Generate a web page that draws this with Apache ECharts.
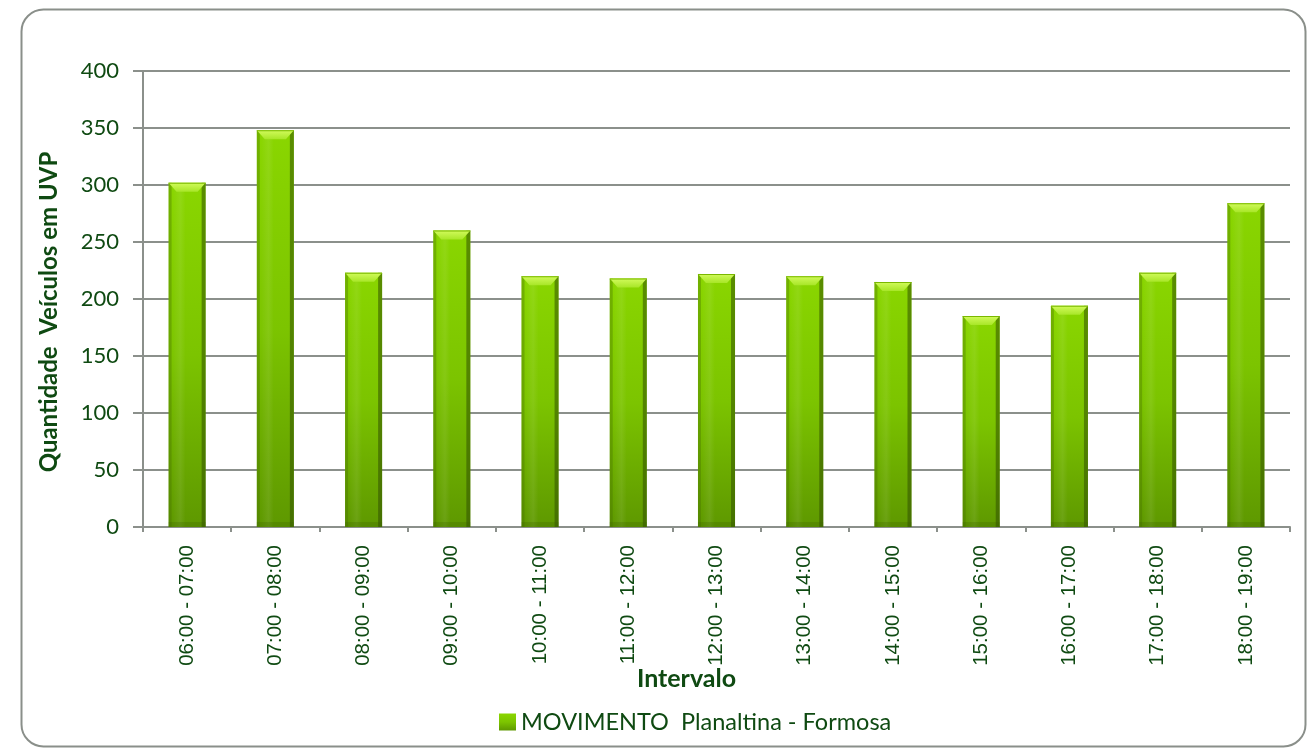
<!DOCTYPE html>
<html>
<head>
<meta charset="utf-8">
<script src="https://cdn.jsdelivr.net/npm/echarts@6/dist/echarts.min.js"></script>
<style>
  html, body { margin: 0; padding: 0; background: #fff; }
  #chart { width: 1313px; height: 751px; }
</style>
</head>
<body>
<div id="chart"></div>
<script>
// dados
const categories = [
  '06:00 - 07:00', '07:00 - 08:00', '08:00 - 09:00', '09:00 - 10:00',
  '10:00 - 11:00', '11:00 - 12:00', '12:00 - 13:00', '13:00 - 14:00',
  '14:00 - 15:00', '15:00 - 16:00', '16:00 - 17:00', '17:00 - 18:00',
  '18:00 - 19:00'
];
const movimento = [302, 348, 223, 260, 220, 218, 222, 220, 215, 185, 194, 223, 284];
const seriesName = 'MOVIMENTO  Planaltina - Formosa';
const yMin = 0;
const yMax = 400;
const yStep = 50;

const textColor = '#0f4a12';
const gridColor = '#8b908b';
const chart = echarts.init(document.getElementById('chart'));

const barFill = new echarts.graphic.LinearGradient(0, 0, 0, 1, [
  { offset: 0, color: '#8ad600' },
  { offset: 0.5, color: '#7cc400' },
  { offset: 1, color: '#5e9800' }
]);

// bisel do topo e laterais de cada barra
function renderBevel(params, api) {
  const idx = api.value(0);
  const val = api.value(1);
  const top = api.coord([idx, val]);
  const base = api.coord([idx, 0]);
  const w = api.size([1, 0])[0] * 0.42;
  const x0 = top[0] - w / 2;
  const x1 = top[0] + w / 2;
  const y0 = top[1];
  const y1 = base[1];
  const bev = 9;
  const inset = 8;
  return {
    type: 'group',
    silent: true,
    children: [
      {
        type: 'rect',
        shape: { x: x0, y: y0, width: 3, height: y1 - y0 },
        style: { fill: 'rgba(70,110,0,0.35)' }
      },
      {
        type: 'rect',
        shape: { x: x1 - 4, y: y0, width: 4, height: y1 - y0 },
        style: { fill: 'rgba(50,80,0,0.55)' }
      },
      {
        type: 'rect',
        shape: { x: x0 + 4, y: y0, width: w * 0.35, height: y1 - y0 },
        style: {
          fill: new echarts.graphic.LinearGradient(0, 0, 1, 0, [
            { offset: 0, color: 'rgba(255,255,255,0)' },
            { offset: 0.6, color: 'rgba(255,255,255,0.08)' },
            { offset: 1, color: 'rgba(255,255,255,0)' }
          ])
        }
      },
      {
        type: 'polygon',
        shape: { points: [[x0, y0], [x1, y0], [x1 - inset, y0 + bev], [x0 + inset, y0 + bev]] },
        style: {
          fill: new echarts.graphic.LinearGradient(0, 0, 0, 1, [
            { offset: 0, color: '#d2fb5c' },
            { offset: 1, color: '#a8e628' }
          ])
        }
      },
      {
        type: 'rect',
        shape: { x: x0, y: y0, width: w, height: 1 },
        style: { fill: '#7ab800' }
      },
      {
        type: 'rect',
        shape: { x: x0, y: y1 - 5, width: w, height: 5 },
        style: { fill: 'rgba(60,95,0,0.25)' }
      }
    ]
  };
}

const option = {
  backgroundColor: '#fff',
  animation: false,
  graphic: [
    {
      type: 'rect',
      left: 19,
      top: 7,
      shape: { width: 1284, height: 737, r: 22 },
      style: { fill: 'none', stroke: '#8a8f8a', lineWidth: 2 },
      silent: true
    }
  ],
  grid: {
    left: 143,
    right: 23,
    top: 71,
    bottom: 224,
    containLabel: false,
    outerBoundsMode: 'none'
  },
  legend: {
    data: [seriesName],
    top: 705,
    left: 494,
    itemWidth: 17,
    itemHeight: 17,
    itemGap: 6,
    icon: 'rect',
    textStyle: {
      color: textColor,
      fontFamily: 'Lato',
      fontSize: 23.5
    }
  },
  xAxis: {
    type: 'category',
    data: categories,
    name: 'Intervalo',
    nameLocation: 'middle',
    nameGap: 139,
    nameMoveOverlap: false,
    nameTextStyle: {
      color: textColor,
      fontFamily: 'Lato',
      fontWeight: 'bold',
      fontSize: 25,
      padding: [0, 60, 0, 0]
    },
    axisLine: { lineStyle: { color: gridColor, width: 2 } },
    axisTick: { show: true, alignWithLabel: false, length: 5, lineStyle: { color: gridColor, width: 2 } },
    axisLabel: {
      rotate: 90,
      margin: 18,
      color: textColor,
      fontFamily: 'Liberation Sans',
      fontSize: 20.5,
      interval: 0
    }
  },
  yAxis: {
    type: 'value',
    min: yMin,
    max: yMax,
    interval: yStep,
    name: 'Quantidade  Veículos em UVP',
    nameLocation: 'middle',
    nameGap: 82,
    nameTextStyle: {
      color: textColor,
      fontFamily: 'Lato',
      fontWeight: 'bold',
      fontSize: 24,
      padding: [0, 26, 0, 0]
    },
    axisLine: { show: true, lineStyle: { color: gridColor, width: 2 } },
    axisTick: { show: true, length: 10, lineStyle: { color: gridColor, width: 2 } },
    splitLine: { lineStyle: { color: gridColor, width: 2 } },
    axisLabel: {
      margin: 24,
      color: textColor,
      fontFamily: 'Lato',
      fontSize: 22
    }
  },
  series: [
    {
      name: seriesName,
      type: 'bar',
      data: movimento,
      barWidth: '42%',
      itemStyle: { color: barFill },
      z: 2
    },
    {
      type: 'custom',
      data: movimento.map((v, i) => [i, v]),
      renderItem: renderBevel,
      silent: true,
      z: 3
    }
  ]
};

chart.setOption(option);
</script>
</body>
</html>
